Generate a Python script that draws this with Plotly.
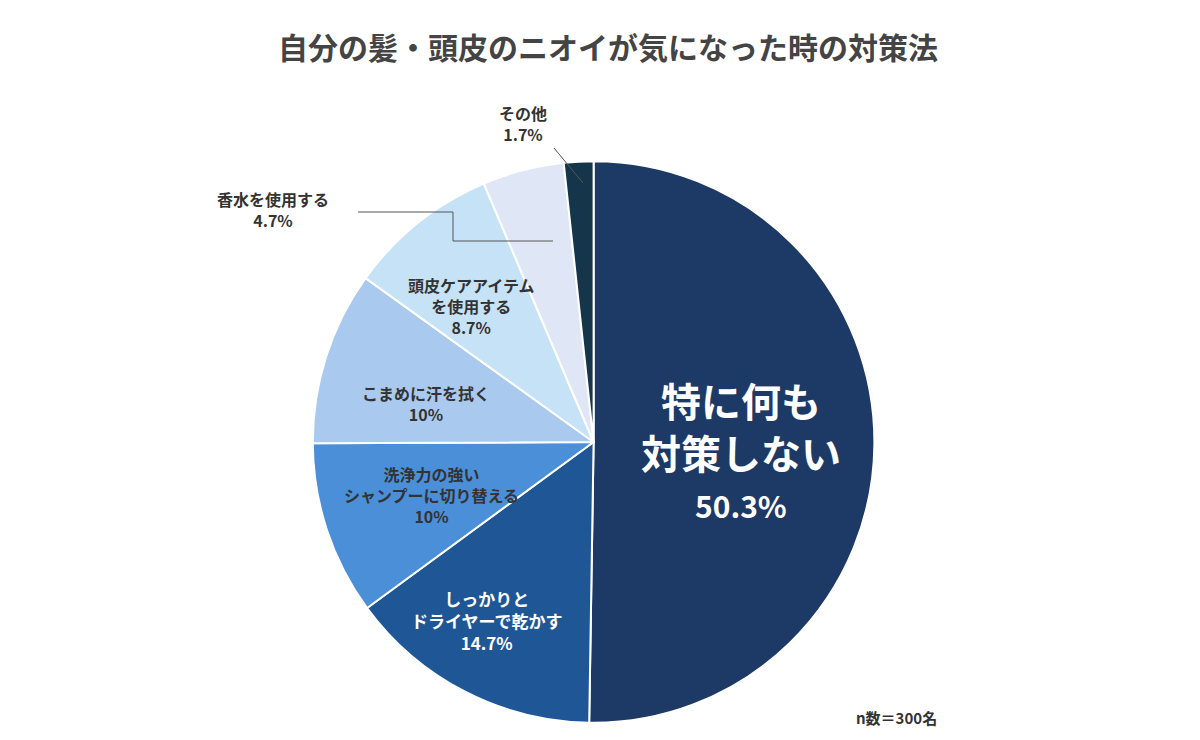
import plotly.graph_objects as go

labels = ["特に何も対策しない", "しっかりとドライヤーで乾かす", "洗浄力の強いシャンプーに切り替える",
          "こまめに汗を拭く", "頭皮ケアアイテムを使用する", "香水を使用する", "その他"]
values = [50.3, 14.7, 10, 10, 8.7, 4.7, 1.7]
colors = ["#1d3a66", "#1f5796", "#4a8fd8", "#a9c9ee", "#c6e2f7", "#dfe7f6", "#15354a"]

F = "Noto Sans CJK JP"
fig = go.Figure(go.Pie(
    labels=labels, values=values, sort=False, direction="clockwise", rotation=0,
    marker=dict(colors=colors, line=dict(color="white", width=2)),
    textinfo="none", hoverinfo="label+percent", showlegend=False,
    domain=dict(x=[0.254, 0.722], y=[0.033, 0.794])))

def ann(x, y, text, size, color):
    fig.add_annotation(x=x/1200, y=1-y/740, xref="paper", yref="paper", text=text,
                       xanchor="center", yanchor="middle",
                       showarrow=False, font=dict(family=F, size=size, color=color))

ann(600, 38, "<b>自分の髪・頭皮のニオイが気になった時の対策法</b>", 30, "#444444")
ann(733, 418, "<b>特に何も<br>対策しない</b>", 40, "white")
ann(733, 497, "<b>50.3%</b>", 30, "white")
ann(478, 612, "<b>しっかりと<br>ドライヤーで乾かす<br>14.7%</b>", 17, "white")
ann(423, 487, "<b>洗浄力の強い<br>シャンプーに切り替える<br>10%</b>", 16, "#333333")
ann(418, 395, "<b>こまめに汗を拭く<br>10%</b>", 16, "#333333")
ann(463, 298, "<b>頭皮ケアアイテム<br>を使用する<br>8.7%</b>", 16, "#333333")
ann(265, 201, "<b>香水を使用する<br>4.7%</b>", 16, "#333333")
ann(515, 116, "<b>その他<br>1.7%</b>", 16, "#333333")
ann(888, 709, "<b>n数＝300名</b>", 15, "#333333")

def line(pts):
    path = "M " + " L ".join(f"{x/1200},{1-y/740}" for x, y in pts)
    fig.add_shape(type="path", path=path, xref="paper", yref="paper",
                  line=dict(color="#555555", width=1))

line([(350, 204), (445, 204), (445, 233), (545, 233)])
line([(546, 140), (575, 175)])

fig.update_layout(width=1200, height=740, margin=dict(l=0, r=0, t=0, b=0),
                  paper_bgcolor="white", plot_bgcolor="white")
fig.write_html("out.html")
